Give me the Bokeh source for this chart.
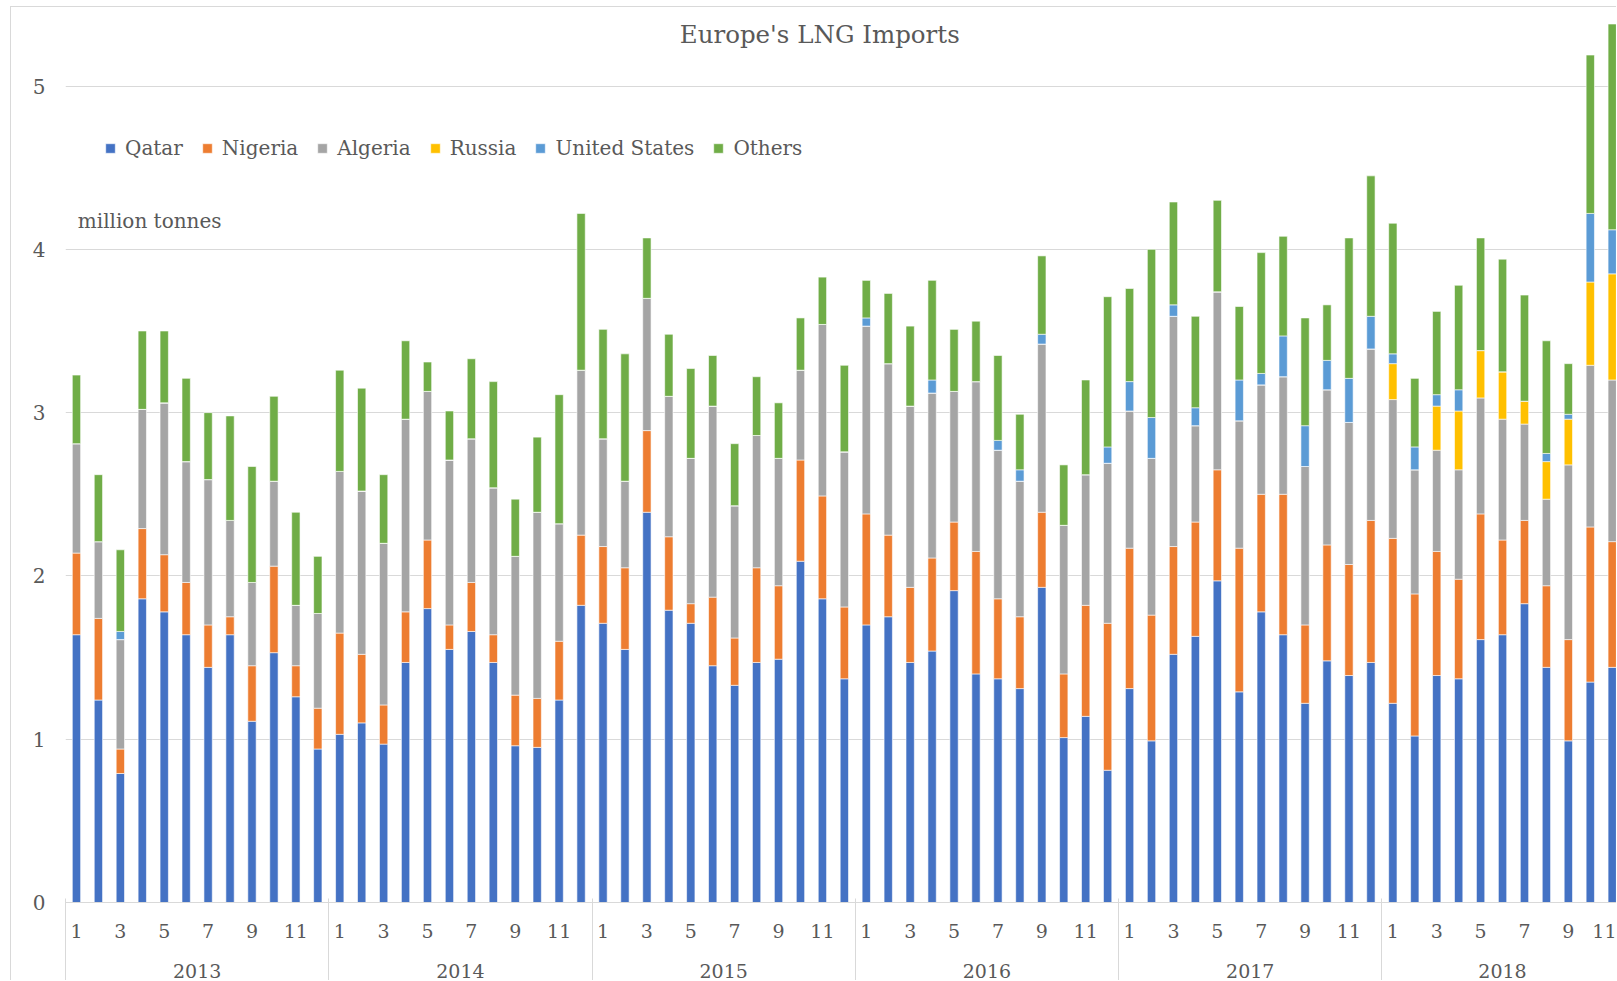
from bokeh.plotting import figure
from bokeh.models import ColumnDataSource, FixedTicker, LinearAxis, Label, Range1d
from bokeh.embed import file_html
from bokeh.resources import INLINE

# ---- data (million tonnes per month, Jan 2013 - Nov 2018) ----
years = ["2013", "2014", "2015", "2016", "2017", "2018"]
months_per_year = [12, 12, 12, 12, 12, 11]
month_tick_labels = ["1", "3", "5", "7", "9", "11"]

qatar = [1.64, 1.24, 0.79, 1.86, 1.78, 1.64, 1.44, 1.64, 1.11, 1.53, 1.26, 0.94,
         1.03, 1.10, 0.97, 1.47, 1.80, 1.55, 1.66, 1.47, 0.96, 0.95, 1.24, 1.82,
         1.71, 1.55, 2.39, 1.79, 1.71, 1.45, 1.33, 1.47, 1.49, 2.09, 1.86, 1.37,
         1.70, 1.75, 1.47, 1.54, 1.91, 1.40, 1.37, 1.31, 1.93, 1.01, 1.14, 0.81,
         1.31, 0.99, 1.52, 1.63, 1.97, 1.29, 1.78, 1.64, 1.22, 1.48, 1.39, 1.47,
         1.22, 1.02, 1.39, 1.37, 1.61, 1.64, 1.83, 1.44, 0.99, 1.35, 1.44]
nigeria = [0.50, 0.50, 0.15, 0.43, 0.35, 0.32, 0.26, 0.11, 0.34, 0.53, 0.19, 0.25,
           0.62, 0.42, 0.24, 0.31, 0.42, 0.15, 0.30, 0.17, 0.31, 0.30, 0.36, 0.43,
           0.47, 0.50, 0.50, 0.45, 0.12, 0.42, 0.29, 0.58, 0.45, 0.62, 0.63, 0.44,
           0.68, 0.50, 0.46, 0.57, 0.42, 0.75, 0.49, 0.44, 0.46, 0.39, 0.68, 0.90,
           0.86, 0.77, 0.66, 0.70, 0.68, 0.88, 0.72, 0.86, 0.48, 0.71, 0.68, 0.87,
           1.01, 0.87, 0.76, 0.61, 0.77, 0.58, 0.51, 0.50, 0.62, 0.95, 0.77]
algeria = [0.67, 0.47, 0.67, 0.73, 0.93, 0.74, 0.89, 0.59, 0.51, 0.52, 0.37, 0.58,
           0.99, 1.00, 0.99, 1.18, 0.91, 1.01, 0.88, 0.90, 0.85, 1.14, 0.72, 1.01,
           0.66, 0.53, 0.81, 0.86, 0.89, 1.17, 0.81, 0.81, 0.78, 0.55, 1.05, 0.95,
           1.15, 1.05, 1.11, 1.01, 0.80, 1.04, 0.91, 0.83, 1.03, 0.91, 0.80, 0.98,
           0.84, 0.96, 1.41, 0.59, 1.09, 0.78, 0.67, 0.72, 0.97, 0.95, 0.87, 1.05,
           0.85, 0.76, 0.62, 0.67, 0.71, 0.74, 0.59, 0.53, 1.07, 0.99, 0.99]
russia = [0.00] * 60 + [0.22, 0.00, 0.27, 0.36, 0.29, 0.29, 0.14, 0.23, 0.28, 0.51, 0.65]
united_states = [0.00, 0.00, 0.05, 0.00, 0.00, 0.00, 0.00, 0.00, 0.00, 0.00, 0.00, 0.00,
                 0.00, 0.00, 0.00, 0.00, 0.00, 0.00, 0.00, 0.00, 0.00, 0.00, 0.00, 0.00,
                 0.00, 0.00, 0.00, 0.00, 0.00, 0.00, 0.00, 0.00, 0.00, 0.00, 0.00, 0.00,
                 0.05, 0.00, 0.00, 0.08, 0.00, 0.00, 0.06, 0.07, 0.06, 0.00, 0.00, 0.10,
                 0.18, 0.25, 0.07, 0.11, 0.00, 0.25, 0.07, 0.25, 0.25, 0.18, 0.27, 0.20,
                 0.06, 0.14, 0.07, 0.13, 0.00, 0.00, 0.00, 0.05, 0.03, 0.42, 0.27]
others = [0.42, 0.41, 0.50, 0.48, 0.44, 0.51, 0.41, 0.64, 0.71, 0.52, 0.57, 0.35,
          0.62, 0.63, 0.42, 0.48, 0.18, 0.30, 0.49, 0.65, 0.35, 0.46, 0.79, 0.96,
          0.67, 0.78, 0.37, 0.38, 0.55, 0.31, 0.38, 0.36, 0.34, 0.32, 0.29, 0.53,
          0.23, 0.43, 0.49, 0.61, 0.38, 0.37, 0.52, 0.34, 0.48, 0.37, 0.58, 0.92,
          0.57, 1.03, 0.63, 0.56, 0.56, 0.45, 0.74, 0.61, 0.66, 0.34, 0.86, 0.86,
          0.80, 0.42, 0.51, 0.64, 0.69, 0.69, 0.65, 0.69, 0.31, 0.97, 1.26]

series_names = ["Qatar", "Nigeria", "Algeria", "Russia", "United States", "Others"]
series_keys = ["qatar", "nigeria", "algeria", "russia", "us", "others"]
colors = ["#4472C4", "#ED7D31", "#A5A5A5", "#FFC000", "#5B9BD5", "#70AD47"]

# ---- build positions from the category structure ----
n = len(qatar)
xpos = [i + 0.5 for i in range(n)]
source = ColumnDataSource(dict(x=xpos, qatar=qatar, nigeria=nigeria, algeria=algeria,
                               russia=russia, us=united_states, others=others))

month_ticks, month_over = [], {}
year_bounds, year_centers, year_over = [], [], {}
start = 0
for yr, cnt in zip(years, months_per_year):
    year_bounds.append(start)
    for lab in month_tick_labels:
        m = int(lab)
        if m <= cnt:
            pos = start + m - 0.5
            month_ticks.append(pos)
            month_over[pos] = lab
    c = start + cnt / 2.0
    year_centers.append(c)
    year_over[c] = yr
    start += cnt

FONT = "DejaVu Serif"
TXT = "#595959"
GRID = "#D9D9D9"

p = figure(width=1606, height=974, output_backend="svg", toolbar_location=None,
           x_range=Range1d(0, 70.74), y_range=Range1d(0, 5.475),
           min_border_left=54, min_border_right=0, min_border_top=1, min_border_bottom=79,
           outline_line_color=None, background_fill_color="white", border_fill_color="white")
# chart-area border (top and left edges visible in the window)
p.styles = {"margin-left": "10px", "margin-top": "6px",
            "border-left": "1px solid #D9D9D9", "border-top": "1px solid #D9D9D9"}

p.vbar_stack(series_keys, x="x", width=0.38, color=colors, source=source,
             line_color="white", line_width=0.6, legend_label=series_names)

# y axis
yax = p.yaxis[0]
yax.ticker = FixedTicker(ticks=[0, 1, 2, 3, 4, 5], minor_ticks=[])
yax.axis_line_color = None
yax.major_tick_line_color = None
yax.minor_tick_line_color = None
yax.major_tick_out = 0
yax.minor_tick_out = 0
yax.major_label_standoff = 20
yax.major_label_text_font = FONT
yax.major_label_text_font_size = "20px"
yax.major_label_text_color = TXT
p.ygrid.ticker = FixedTicker(ticks=[0, 1, 2, 3, 4, 5])
p.ygrid.grid_line_color = GRID
p.ygrid.grid_line_width = 1
p.xgrid.grid_line_color = None

# x axis 1: month labels
xax = p.xaxis[0]
xax.ticker = FixedTicker(ticks=month_ticks, minor_ticks=[])
xax.major_label_overrides = month_over
xax.axis_line_color = GRID
xax.major_tick_line_color = None
xax.minor_tick_line_color = None
xax.major_tick_out = 0
xax.major_tick_in = 0
xax.minor_tick_out = 0
xax.minor_tick_in = 0
xax.major_label_standoff = 21
xax.major_label_text_font = FONT
xax.major_label_text_font_size = "19px"
xax.major_label_text_color = TXT

# x axis 2: years
yrax = LinearAxis(ticker=FixedTicker(ticks=year_centers, minor_ticks=[]),
                  major_label_overrides=year_over)
yrax.axis_line_color = None
yrax.major_tick_line_color = None
yrax.minor_tick_line_color = None
yrax.major_tick_out = 0
yrax.major_tick_in = 0
yrax.minor_tick_out = 0
yrax.minor_tick_in = 0
yrax.major_label_standoff = 23
yrax.major_label_text_font = FONT
yrax.major_label_text_font_size = "19px"
yrax.major_label_text_color = TXT
p.add_layout(yrax, "below")

# x axis 3 (zero height): year separators drawn as inward minor ticks
sepax = LinearAxis(ticker=FixedTicker(ticks=[], minor_ticks=year_bounds))
sepax.axis_line_color = None
sepax.major_tick_line_color = None
sepax.major_tick_out = 0
sepax.major_tick_in = 0
sepax.minor_tick_out = 0
sepax.minor_tick_in = 82
sepax.minor_tick_line_color = GRID
sepax.major_label_standoff = 0
sepax.major_label_text_font_size = "0px"
p.add_layout(sepax, "below")

# legend
leg = p.legend[0]
leg.orientation = "horizontal"
leg.location = (39, 742)
leg.glyph_width = 12
leg.glyph_height = 12
leg.label_standoff = 9
leg.spacing = 18
leg.padding = 0
leg.margin = 0
leg.border_line_color = None
leg.background_fill_alpha = 0
leg.label_text_font = FONT
leg.label_text_font_size = "20px"
leg.label_text_color = TXT

# title and unit label
p.add_layout(Label(x=34.38, y=5.315, text="Europe's LNG Imports", text_font=FONT,
                   text_font_size="24.5px", text_color=TXT, text_align="center",
                   text_baseline="middle"))
p.add_layout(Label(x=0.56, y=4.173, text="million tonnes", text_font=FONT,
                   text_font_size="20px", text_color=TXT, text_align="left",
                   text_baseline="middle"))

open("out.html", "w").write(file_html(p, INLINE))
